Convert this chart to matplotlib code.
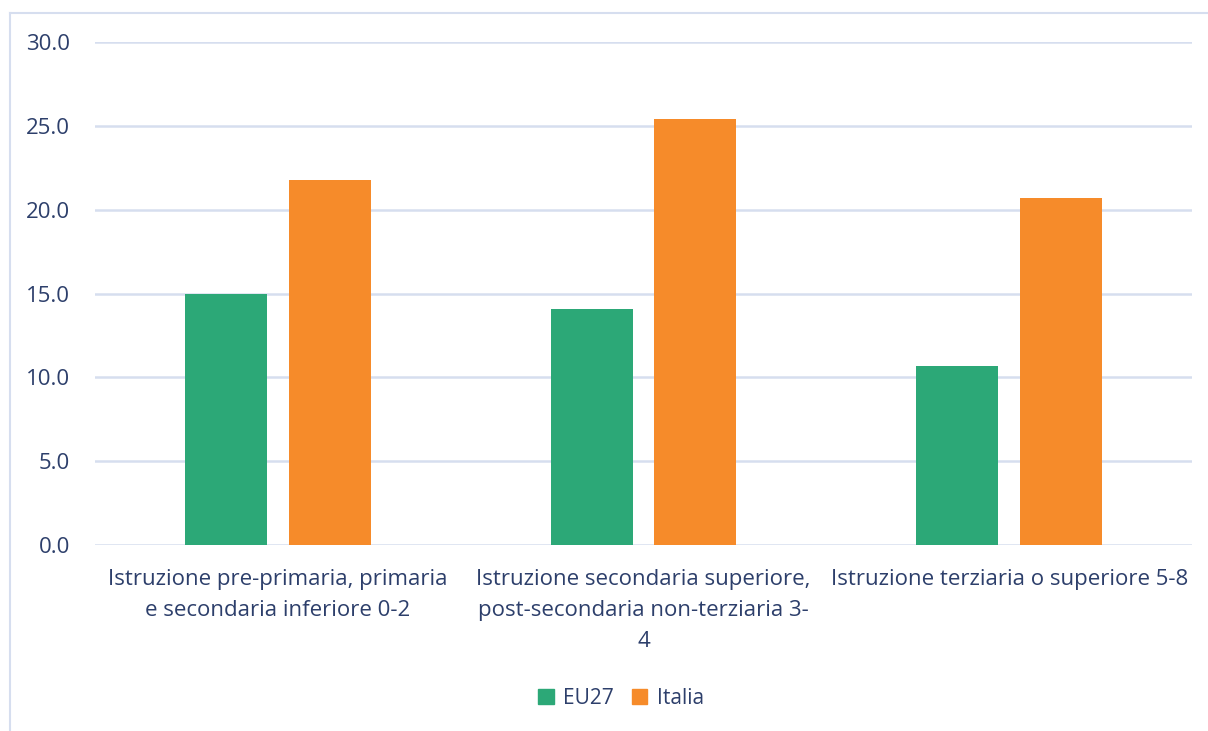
import numpy as np
import matplotlib.pyplot as plt
from matplotlib.lines import Line2D

# Quota per livello di istruzione
categorie = [
    "Istruzione pre-primaria, primaria\ne secondaria inferiore 0-2",
    "Istruzione secondaria superiore,\npost-secondaria non-terziaria 3-\n4",
    "Istruzione terziaria o superiore 5-8",
]
eu27 = [15.0, 14.1, 10.7]
italia = [21.8, 25.4, 20.7]
serie = ["EU27", "Italia"]

verde = '#2ca877'
arancio = '#f68b2a'
testo = '#2d3f6b'
griglia = '#d6deef'

plt.rcParams['font.family'] = ['Open Sans', 'DejaVu Sans']

fig = plt.figure(figsize=(12.08, 7.31), dpi=100)
ax = fig.add_axes([0.0786, 0.2544, 0.9082, 0.6881])

x = np.arange(len(categorie))
w = 0.224
off = 0.142
ax.bar(x - off, eu27, w, color=verde, label=serie[0], zorder=3)
ax.bar(x + off, italia, w, color=arancio, label=serie[1], zorder=3)

ax.set_xlim(-0.5, len(categorie) - 0.5)
ax.set_ylim(0, 30)
ax.set_yticks(np.arange(0, 30.1, 5))
ax.set_yticklabels([f"{v:.1f}" for v in np.arange(0, 30.1, 5)])
ax.yaxis.grid(True, color=griglia, linewidth=1.8, zorder=0)
ax.set_xticks(x)
ax.set_xticklabels(categorie, linespacing=1.65)
ax.tick_params(axis='both', length=0, labelsize=16, colors=testo)
ax.tick_params(axis='y', pad=18)
ax.tick_params(axis='x', pad=17)
for s in ax.spines.values():
    s.set_visible(False)

# cornice esterna (solo lato sinistro e superiore)
fig.add_artist(Line2D([10 / 1208, 10 / 1208], [0, 1 - 13 / 731], color=griglia, lw=1.5,
                      transform=fig.transFigure))
fig.add_artist(Line2D([10 / 1208, 1], [1 - 13 / 731, 1 - 13 / 731], color=griglia, lw=1.5,
                      transform=fig.transFigure))

handles = [plt.Rectangle((0, 0), 1, 1, color=verde), plt.Rectangle((0, 0), 1, 1, color=arancio)]
fig.legend(handles, serie, loc='center', bbox_to_anchor=(0.514, 1 - 698 / 731), ncol=2,
           frameon=False, fontsize=15, labelcolor=testo, handlelength=0.75, handleheight=0.75,
           handletextpad=0.45, columnspacing=0.85)

fig.savefig('out.png', dpi=100)
